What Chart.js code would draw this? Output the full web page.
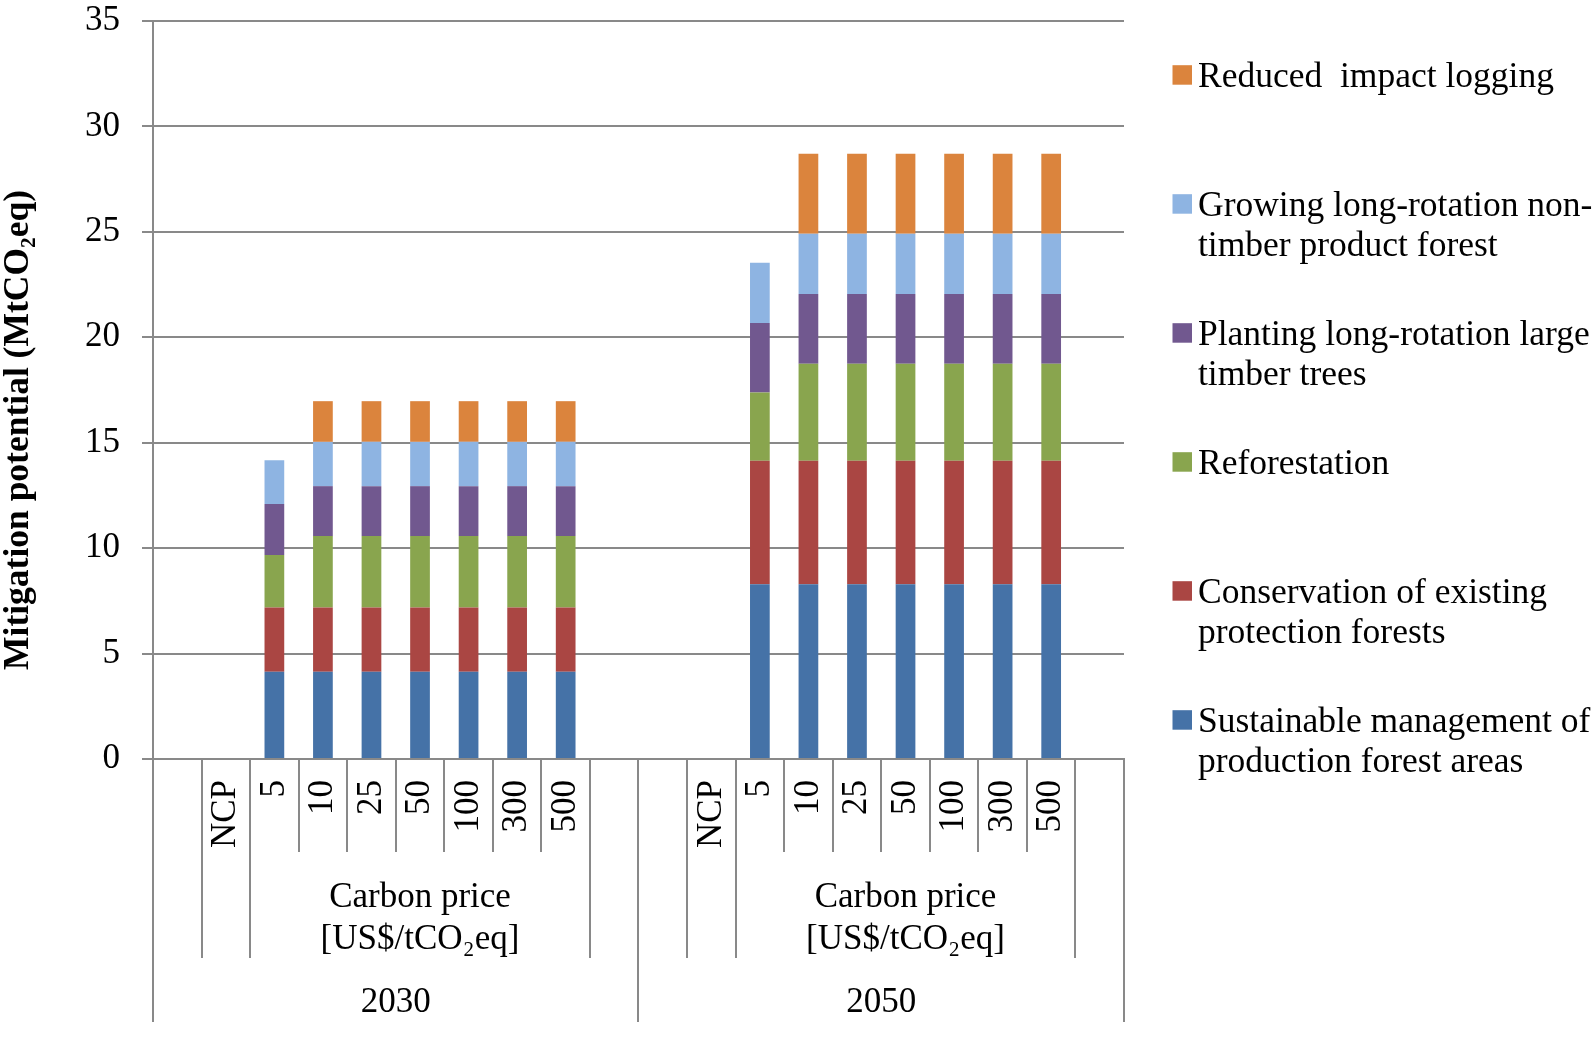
<!DOCTYPE html>
<html>
<head>
<meta charset="utf-8">
<script src="https://cdn.jsdelivr.net/npm/chart.js@4.4.0/dist/chart.umd.min.js"></script>
<style>
  html, body { margin: 0; padding: 0; background: #fff; }
  #wrap { width: 1594px; height: 1037px; position: relative; }
</style>
</head>
<body>
<div id="wrap"><canvas id="chart"></canvas></div>
<script>
// categories: 10 per year, first and last of each year are empty spacer columns
const categories = ['', 'NCP', '5', '10', '25', '50', '100', '300', '500', '',
                    '', 'NCP', '5', '10', '25', '50', '100', '300', '500', ''];
const years = ['2030', '2050'];
const groupLabels = [[''], [''], ['Carbon price', '[US$/tCO₂eq]'], ['']];
const groupSpans = [1, 1, 7, 1];

// series values (MtCO2eq), bottom to top of the stack
const sustainable   = [null, 0, 4.14, 4.14, 4.14, 4.14, 4.14, 4.14, 4.14, null,
                       null, 0, 8.29, 8.29, 8.29, 8.29, 8.29, 8.29, 8.29, null];
const conservation  = [null, 0, 3.05, 3.05, 3.05, 3.05, 3.05, 3.05, 3.05, null,
                       null, 0, 5.85, 5.85, 5.85, 5.85, 5.85, 5.85, 5.85, null];
const reforestation = [null, 0, 2.48, 3.38, 3.38, 3.38, 3.38, 3.38, 3.38, null,
                       null, 0, 3.24, 4.61, 4.61, 4.61, 4.61, 4.61, 4.61, null];
const planting      = [null, 0, 2.42, 2.37, 2.37, 2.37, 2.37, 2.37, 2.37, null,
                       null, 0, 3.30, 3.30, 3.30, 3.30, 3.30, 3.30, 3.30, null];
const growing       = [null, 0, 2.08, 2.10, 2.10, 2.10, 2.10, 2.10, 2.10, null,
                       null, 0, 2.86, 2.86, 2.86, 2.86, 2.86, 2.86, 2.86, null];
const reduced       = [null, 0, 0, 1.93, 1.93, 1.93, 1.93, 1.93, 1.93, null,
                       null, 0, 0, 3.79, 3.79, 3.79, 3.79, 3.79, 3.79, null];

const seriesNames = [
    ['Sustainable management of', 'production forest areas'],
    ['Conservation of existing', 'protection forests'],
    ['Reforestation'],
    ['Planting long-rotation large', 'timber trees'],
    ['Growing long-rotation non-', 'timber product forest'],
    ['Reduced  impact logging']
];
const seriesValues = [sustainable, conservation, reforestation, planting, growing, reduced];
const seriesColors = ['#4572A7', '#AA4643', '#89A54E', '#71588F', '#8EB4E2', '#DB843D'];

const yTitle = 'Mitigation potential (MtCO₂eq)';

const FONT = '"Liberation Serif", "Times New Roman", serif';
const GRID = '#898989';

// multi-level category axis: separators, group labels, year labels
const axisGroups = {
    id: 'axisGroups',
    afterDraw(chart) {
        const ctx = chart.ctx;
        const x = chart.scales.x;
        const axisY = x.top;
        const step = x.getPixelForValue(1) - x.getPixelForValue(0);
        const edge = i => x.getPixelForValue(0) - step / 2 + i * step;
        const perYear = categories.length / years.length;

        // which boundaries close a level-2 group
        const groupEnds = [];
        let acc = 0;
        groupSpans.forEach(s => { acc += s; groupEnds.push(acc); });

        ctx.save();
        ctx.strokeStyle = GRID;
        ctx.lineWidth = 2;
        for (let b = 0; b <= categories.length; b++) {
            const k = b % perYear;
            let len = 93;
            if (k === 0) len = 263;
            else if (groupEnds.includes(k)) len = 199;
            const px = Math.round(edge(b));
            ctx.beginPath();
            ctx.moveTo(px, axisY);
            ctx.lineTo(px, axisY + len);
            ctx.stroke();
        }

        ctx.fillStyle = '#000';
        ctx.font = '35px ' + FONT;
        ctx.textAlign = 'center';
        ctx.textBaseline = 'alphabetic';
        years.forEach((yr, yi) => {
            let start = yi * perYear;
            groupLabels.forEach((lines, gi) => {
                const cx = (edge(start) + edge(start + groupSpans[gi])) / 2;
                lines.forEach((ln, li) => {
                    if (ln) ctx.fillText(ln, cx, axisY + 148 + li * 41.5);
                });
                start += groupSpans[gi];
            });
            const yc = (edge(yi * perYear) + edge((yi + 1) * perYear)) / 2;
            ctx.fillText(yr, yc, axisY + 253);
        });

        // y axis title
        ctx.save();
        ctx.translate(19, 430);
        ctx.rotate(-Math.PI / 2);
        ctx.font = 'bold 35.5px ' + FONT;
        ctx.textBaseline = 'middle';
        ctx.fillText(yTitle, 0, 0);
        ctx.restore();

        ctx.restore();
    }
};

// legend on the right, top item = top of stack
const sideLegend = {
    id: 'sideLegend',
    afterDraw(chart) {
        const ctx = chart.ctx;
        ctx.save();
        ctx.font = '35.5px ' + FONT;
        ctx.textAlign = 'left';
        ctx.textBaseline = 'alphabetic';
        const n = chart.data.datasets.length;
        for (let i = 0; i < n; i++) {
            const ds = chart.data.datasets[n - 1 - i];
            const base = 86.5 + i * 129;
            ctx.fillStyle = ds.backgroundColor;
            ctx.fillRect(1172.5, base - 21.3, 19.5, 19.5);
            ctx.fillStyle = '#000';
            ds.label.forEach((ln, li) => ctx.fillText(ln, 1198, base + li * 40.5));
        }
        ctx.restore();
    }
};

const datasets = seriesValues.map((vals, i) => ({
    label: seriesNames[i],
    data: vals,
    backgroundColor: seriesColors[i],
    borderWidth: 0,
    barPercentage: 0.406,
    categoryPercentage: 1
}));

new Chart(document.getElementById('chart'), {
    type: 'bar',
    data: { labels: categories, datasets: datasets },
    options: {
        responsive: true,
        maintainAspectRatio: false,
        animation: false,
        layout: { padding: { left: 0, right: 470, top: 21, bottom: 0 } },
        plugins: {
            legend: { display: false },
            tooltip: { enabled: false }
        },
        scales: {
            x: {
                stacked: true,
                grid: { display: false, drawTicks: false },
                border: { display: true, color: GRID, width: 2 },
                ticks: {
                    autoSkip: false,
                    maxRotation: 90,
                    minRotation: 90,
                    padding: 21,
                    color: '#000',
                    font: { family: FONT, size: 35 }
                },
                afterFit: scale => {
                    scale.height = 278;
                    scale.paddingLeft = 0;
                    scale.paddingRight = 0;
                }
            },
            y: {
                stacked: true,
                min: 0,
                max: 35,
                grid: { color: GRID, lineWidth: 2, tickLength: 11, tickColor: GRID },
                border: { display: true, color: GRID, width: 2 },
                ticks: {
                    stepSize: 5,
                    padding: 22,
                    color: '#000',
                    font: { family: FONT, size: 35 }
                },
                afterFit: scale => {
                    scale.width = 153;
                    scale.paddingTop = 0;
                    scale.paddingBottom = 0;
                }
            }
        }
    },
    plugins: [axisGroups, sideLegend]
});
</script>
</body>
</html>
